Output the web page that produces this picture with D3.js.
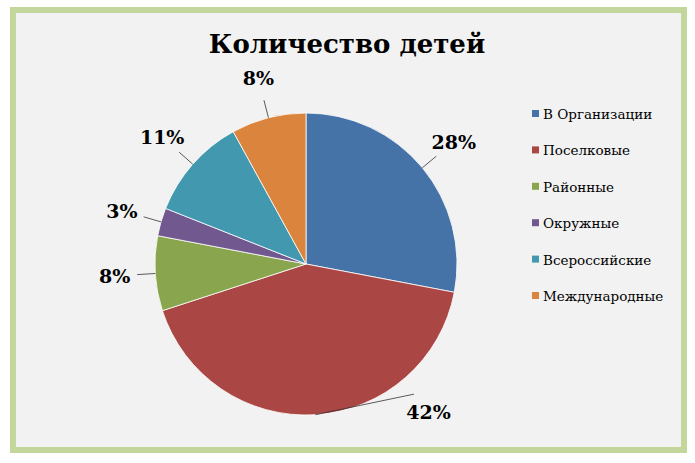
<!DOCTYPE html>
<html><head><meta charset="utf-8">
<script src="https://cdn.jsdelivr.net/npm/d3@7"></script>
<style>body{margin:0;background:#fff}</style>
</head><body>
<svg width="695" height="463"></svg>
<script>
const categories = ["В Организации", "Поселковые", "Районные", "Окружные", "Всероссийские", "Международные"];
const values = [28, 42, 8, 3, 11, 8];
const colors = ["#4572a7", "#aa4643", "#89a54e", "#71588f", "#4198af", "#db843d"];
const title = "Количество детей";

const svg = d3.select("svg");
const font = "'DejaVu Serif', 'Liberation Serif', serif";

svg.append("rect").attr("x", 13).attr("y", 10).attr("width", 671).attr("height", 440)
   .attr("fill", "#f2f2f2").attr("stroke", "#c3d69b").attr("stroke-width", 6);

svg.append("text").attr("x", 347).attr("y", 53).attr("text-anchor", "middle")
   .attr("font-family", font).attr("font-weight", "bold").attr("font-size", 26)
   .text(title);

const cx = 306, cy = 264, r = 151;
const g = svg.append("g").attr("transform", `translate(${cx},${cy})`);
const pie = d3.pie().sort(null).value(d => d)(values);
const arc = d3.arc().innerRadius(0).outerRadius(r);

g.selectAll("path").data(pie).join("path")
   .attr("d", arc).attr("fill", (d, i) => colors[i])
   .attr("stroke", "#fff").attr("stroke-width", 0.8);

// label placement: mid angle, with a shift for the big bottom slice
const shift = [0, -0.63, 0, 0, 0, 0];
const pt = (a, rad) => [Math.sin(a) * rad, -Math.cos(a) * rad];
pie.forEach((d, i) => {
   const mid = (d.startAngle + d.endAngle) / 2;
   const la = mid + shift[i];
   const [lx, ly] = pt(la, r * 1.27);
   const [ex, ey] = pt(mid, r);
   const [bx, by] = pt(la, r * 1.12);
   g.append("polyline")
      .attr("points", [[ex, ey], [bx, by]].map(p => p.join(",")).join(" "))
      .attr("fill", "none").attr("stroke", "#333").attr("stroke-width", 0.8);
   g.append("text").attr("x", lx).attr("y", ly + 7).attr("text-anchor", "middle")
      .attr("font-family", font).attr("font-weight", "bold").attr("font-size", 19)
      .text(values[i] + "%");
});

const legend = svg.append("g");
const ly = d3.scalePoint().domain(categories).range([114, 296]);
categories.forEach((c, i) => {
   legend.append("rect").attr("x", 532).attr("y", ly(c) - 4).attr("width", 7).attr("height", 7)
      .attr("fill", colors[i]);
   legend.append("text").attr("x", 543).attr("y", ly(c) + 5)
      .attr("font-family", font).attr("font-size", 13.5).text(c);
});
</script>
</body></html>
